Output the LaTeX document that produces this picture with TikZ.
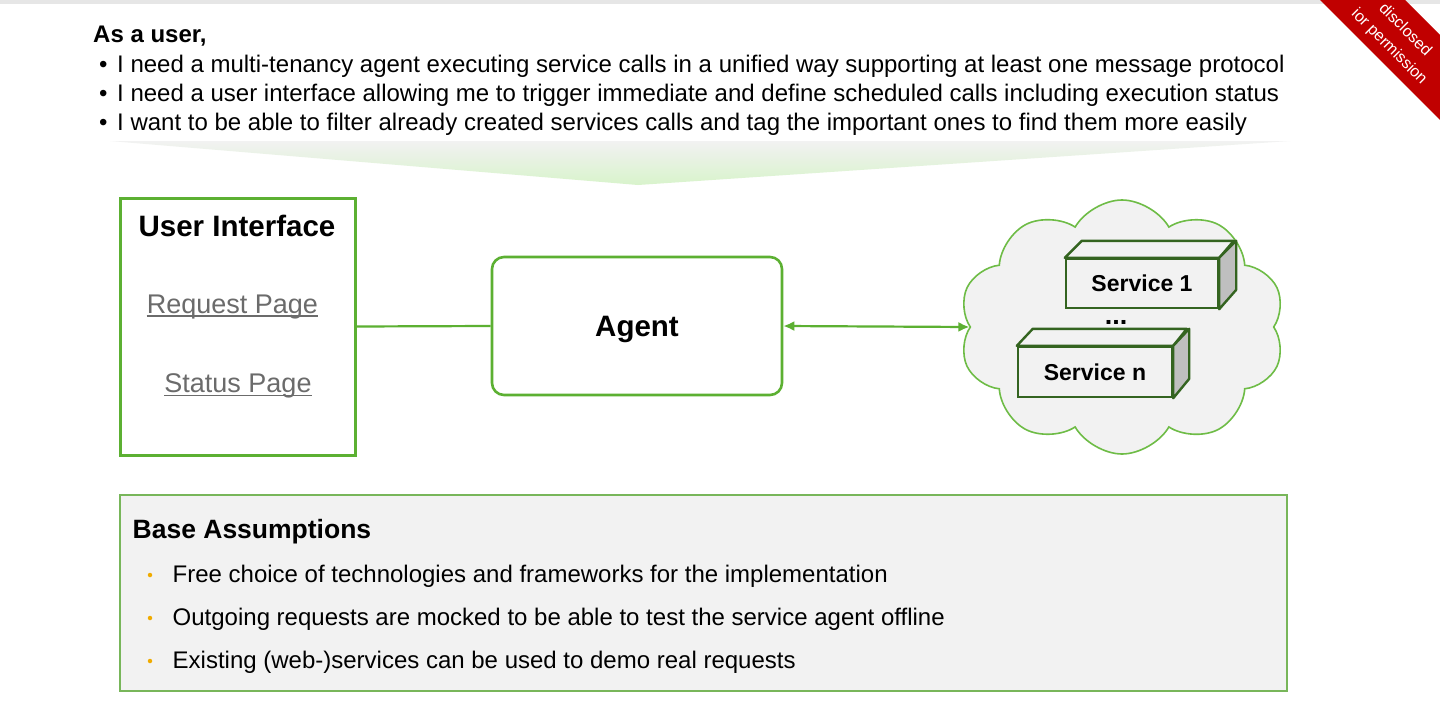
\documentclass[tikz,border=0pt]{standalone}
\usepackage{fontspec}
\setmainfont{Liberation Sans}
\usetikzlibrary{shapes.symbols,arrows.meta}
\definecolor{uigreen}{RGB}{92,176,50}
\definecolor{cloudgreen}{RGB}{110,188,70}
\definecolor{dkgreen}{RGB}{52,100,32}
\definecolor{boxgray}{HTML}{F2F2F2}
\definecolor{sidegray}{HTML}{BFBFBF}
\definecolor{topgray}{HTML}{E6E6E6}
\definecolor{linkgray}{HTML}{6B6B6B}
\definecolor{dotorange}{HTML}{F0AB00}
\definecolor{ribred}{HTML}{C00000}
\definecolor{basegreen}{RGB}{120,182,90}
\begin{document}
\begin{tikzpicture}[x=1pt,y=-1pt,
  toptxt/.style={inner sep=0pt, anchor=base west, font=\fontsize{24}{28}\selectfont},
  basetxt/.style={inner sep=0pt, anchor=base west, font=\fontsize{24}{28}\selectfont},
  linktxt/.style={inner sep=0pt, anchor=base, text=linkgray, font=\fontsize{27}{31}\selectfont},
  uibox/.style={draw=uigreen, line width=3pt, minimum width=235pt, minimum height=257pt, inner sep=0pt},
  agentbox/.style={draw=uigreen, line width=2.6pt, rounded corners=12pt, minimum width=290pt, minimum height=138pt, text depth=0pt, font=\bfseries\fontsize{29.5}{33}\selectfont},
  front/.style={draw=dkgreen, fill=boxgray, line width=2.4pt, inner sep=0pt, font=\bfseries\fontsize{23}{26}\selectfont},
  face/.style={draw=dkgreen, line width=2.4pt, line join=round},
  link/.style={draw=uigreen, line width=2.2pt},
  dot/.style={circle, fill=dotorange, inner sep=0pt, minimum size=4.5pt},
  ribtxt/.style={inner sep=0pt, text=white, rotate=-45, font=\fontsize{16}{20}\selectfont}
]
\useasboundingbox (0,0) rectangle (1440,704);
\fill[white] (0,0) rectangle (1440,704);
\fill[topgray] (0,0) rectangle (1440,4);

% user story text
\node[toptxt, font=\bfseries\fontsize{24}{28}\selectfont] (asuser) at (93,42.7) {As a user,};
\node[toptxt] (b1) at (99,72.3) {•};
\node[toptxt] (t1) at (117,72.3) {I need a multi-tenancy agent executing service calls in a unified way supporting at least one message protocol};
\node[toptxt] (b2) at (99,101.3) {•};
\node[toptxt] (t2) at (117,101.3) {I need a user interface allowing me to trigger immediate and define scheduled calls including execution status};
\node[toptxt] (b3) at (99,130.3) {•};
\node[toptxt] (t3) at (117,130.3) {I want to be able to filter already created services calls and tag the important ones to find them more easily};

% gradient funnel
\shade[top color=boxgray, bottom color={rgb,255:red,216;green,243;blue,203}] (110,141) -- (1290,141) -- (638,185) -- cycle;

% user interface
\node[uibox] (ui) at (237.5,326.5) {};
\node[inner sep=0pt, anchor=base, font=\bfseries\fontsize{29.5}{33}\selectfont] (uititle) at (237,236) {User Interface};
\node[linktxt] (rp) at (232.5,313) {Request Page};
\node[linktxt] (sp) at (238,392.7) {Status Page};
\draw[linkgray, line width=1.5pt] ([yshift=-3pt]rp.base west) -- ([yshift=-3pt]rp.base east);
\draw[linkgray, line width=1.5pt] ([yshift=-3pt]sp.base west) -- ([yshift=-3pt]sp.base east);

% agent
\node[agentbox] (agent) at (637,326) {Agent};

% cloud
\node[cloud, cloud puffs=10, cloud puff arc=120, cloud ignores aspect, draw=cloudgreen, fill=boxgray, line width=1.6pt, minimum width=326pt, minimum height=254pt] (cloud) at (1122,327) {};

% connectors
\draw[link] (ui.east) -- (agent.west);
\draw[link, {Latex[length=11pt,width=10pt]}-{Latex[length=11pt,width=10pt]}] (agent.east) -- (cloud.west);

% service 1
\node[front, minimum width=152pt, minimum height=49pt] (s1) at (1142,283.5) {Service 1};
\draw[face, fill=boxgray] (s1.north west) -- ++(17,-17) -- ++(152,0) -- (s1.north east) -- cycle;
\draw[face, fill=sidegray] (s1.north east) -- ++(17,-17) -- ++(0,49) -- (s1.south east) -- cycle;

\node[inner sep=0pt, font=\bfseries\fontsize{27}{30}\selectfont] (dots) at (1116,322) {...};

% service n
\node[front, minimum width=154pt, minimum height=50pt] (sn) at (1095,372) {Service n};
\draw[face, fill=boxgray] (sn.north west) -- ++(16,-17) -- ++(154,0) -- (sn.north east) -- cycle;
\draw[face, fill=sidegray] (sn.north east) -- ++(16,-17) -- ++(0,50) -- (sn.south east) -- cycle;

% base assumptions
\node[draw=basegreen, fill=boxgray, line width=1.2pt, minimum width=1167pt, minimum height=196pt, inner sep=0pt] (assume) at (703.5,593) {};
\node[inner sep=0pt, anchor=base west, font=\bfseries\fontsize{26.5}{30}\selectfont] (atitle) at (132.5,538) {Base Assumptions};
\node[dot] (d1) at (150,575) {};
\node[basetxt] (a1) at (172.5,582.3) {Free choice of technologies and frameworks for the implementation};
\node[dot] (d2) at (150,618) {};
\node[basetxt] (a2) at (172.5,625) {Outgoing requests are mocked to be able to test the service agent offline};
\node[dot] (d3) at (150,661) {};
\node[basetxt] (a3) at (172.5,668) {Existing (web-)services can be used to demo real requests};

% confidentiality ribbon
\begin{scope}
\clip (0,0) rectangle (1440,704);
\fill[ribred] (1320,0) -- (1405,0) -- (1440,35) -- (1440,120) -- cycle;
\node[ribtxt] (r1) at (1406,29) {disclosed};
\node[ribtxt] (r2) at (1389,47) {ior permission};
\end{scope}
\end{tikzpicture}
\end{document}
